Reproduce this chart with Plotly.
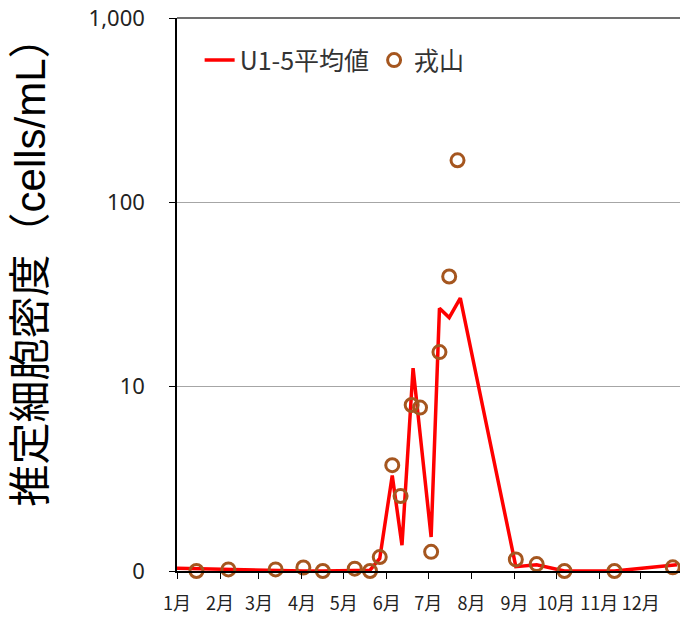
import plotly.graph_objects as go

# U1-5平均値 (line)
line_dates = ["2019-01-01", "2019-01-15", "2019-02-07", "2019-03-13", "2019-04-02",
              "2019-04-16", "2019-05-01", "2019-05-09", "2019-05-15", "2019-05-20",
              "2019-05-27", "2019-06-05", "2019-06-12", "2019-06-20", "2019-07-03",
              "2019-07-09", "2019-07-16", "2019-07-24", "2019-09-02", "2019-09-17",
              "2019-10-07", "2019-11-12", "2019-12-27"]
line_vals = [1.035, 1.03, 1.02, 1.0, 1.0,
             1.0, 1.0, 1.0, 1.0, 1.01,
             1.17, 3.3, 1.38, 12.6, 1.53,
             26.6, 23.7, 30.2, 1.055, 1.08,
             1.0, 1.0, 1.08]

# 戎山 (circles)
site_dates = ["2019-01-15", "2019-02-07", "2019-03-13", "2019-04-02", "2019-04-16",
              "2019-05-02", "2019-05-09", "2019-05-15", "2019-05-20", "2019-05-27",
              "2019-06-05", "2019-06-11", "2019-06-19", "2019-06-25", "2019-07-03",
              "2019-07-09", "2019-07-16", "2019-07-22", "2019-09-02", "2019-09-17",
              "2019-10-07", "2019-11-12", "2019-12-24"]
site_vals = [1.0, 1.02, 1.02, 1.045, 1.0,
             0.99, 1.03, 0.99, 1.0, 1.19,
             3.75, 2.55, 7.95, 7.7, 1.27,
             15.4, 39.6, 169, 1.155, 1.09,
             1.0, 1.0, 1.047]

month_ticks = ["2019-%02d-01" % m for m in range(1, 13)]
month_labels = ["%d月" % m for m in range(1, 13)]
y_tickvals = [1, 10, 100, 1000]
y_ticktext = ["0", "10", "100", "1,000"]

CJK = "Noto Sans CJK JP"
MIX = "Liberation Sans, Noto Sans CJK JP"

fig = go.Figure()
fig.add_trace(go.Scatter(
    x=line_dates, y=line_vals, mode="lines", name="U1-5平均値",
    line=dict(color="#FF0000", width=3.5), cliponaxis=False))
fig.add_trace(go.Scatter(
    x=site_dates, y=site_vals, mode="markers", name="戎山",
    marker=dict(symbol="circle-open", size=13, color="#A5561F",
                line=dict(width=3, color="#A5561F")),
    cliponaxis=False))

fig.update_layout(
    width=680, height=617,
    margin=dict(l=177, r=0, t=18, b=46, autoexpand=False),
    paper_bgcolor="white", plot_bgcolor="white",
    font=dict(family=CJK, color="#222222"),
    showlegend=True,
    legend=dict(orientation="h", x=0.045, y=0.965, xanchor="left", yanchor="top",
                font=dict(size=25, family=CJK, color="#333333"),
                bgcolor="rgba(0,0,0,0)", itemwidth=30, tracegroupgap=0),
    xaxis=dict(type="date", range=["2019-01-01", "2019-12-29 05:00"],
               tickvals=month_ticks, ticktext=month_labels,
               ticks="outside", ticklen=6, tickcolor="black", tickwidth=1,
               showline=True, linecolor="black", linewidth=1.5,
               showgrid=False, zeroline=False, automargin=False,
               tickfont=dict(size=18, family=CJK, color="#222222"),
               ticklabelstandoff=10),
    yaxis=dict(type="log", range=[0, 3],
               tickvals=y_tickvals, ticktext=y_ticktext,
               ticks="outside", ticklen=6, tickcolor="black", tickwidth=1,
               showline=True, linecolor="black", linewidth=1.5,
               showgrid=True, gridcolor="#A6A6A6", gridwidth=1.2,
               zeroline=False, automargin=False,
               tickfont=dict(size=22, family="Noto Sans", color="#222222"),
               ticklabelstandoff=20),
    annotations=[dict(text="推定細胞密度（cells/mL）", textangle=-90,
                      xref="paper", yref="paper", x=-0.292, y=0.56,
                      xanchor="center", yanchor="middle", showarrow=False,
                      font=dict(size=42, family=MIX, color="black"))],
    shapes=[dict(type="line", xref="paper", yref="paper", x0=0, x1=1, y0=1, y1=1,
                 line=dict(color="#404040", width=1.5))],
)

fig.write_html("out.html", config={"displayModeBar": False},
               post_script="document.body.style.margin='0px';")
